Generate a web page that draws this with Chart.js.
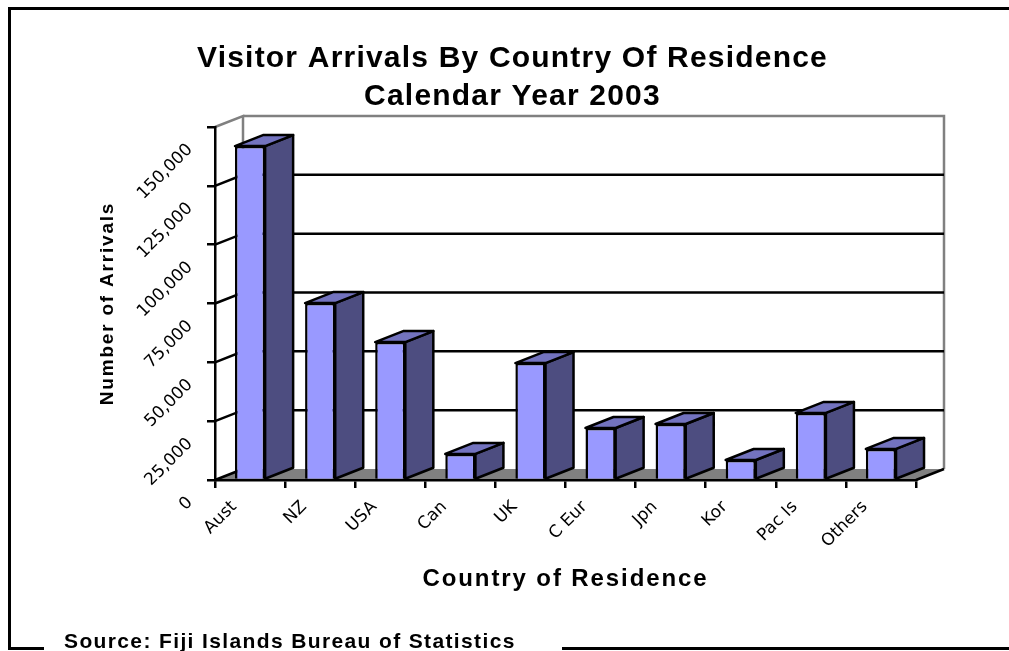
<!DOCTYPE html>
<html>
<head>
<meta charset="utf-8">
<title>Visitor Arrivals By Country Of Residence</title>
<script src="https://cdn.jsdelivr.net/npm/chart.js@4"></script>
<style>
  html, body { margin: 0; padding: 0; background: #fff; overflow: hidden; }
  canvas { display: block; }
</style>
</head>
<body>
<canvas id="arrivalsChart" width="1009" height="651"></canvas>
<script>
const countries = ['Aust', 'NZ', 'USA', 'Can', 'UK', 'C Eur', 'Jpn', 'Kor', 'Pac Is', 'Others'];
const arrivals = [141900, 75200, 58600, 11100, 49700, 22100, 23800, 8500, 28500, 13200];
const titleLines = ['Visitor Arrivals By Country Of Residence', 'Calendar Year 2003'];
const sourceText = 'Source: Fiji Islands Bureau of Statistics';

// fake 3D depth of the Excel style plot
const depthX = 28;
const depthY = 11;

function spaced(target, name, spacing) {
    const original = target[name];
    target[name] = function () {
        const ctx = this.ctx;
        ctx.letterSpacing = spacing;
        original.apply(this, arguments);
        ctx.letterSpacing = '0px';
    };
}

const plot3d = {
    id: 'plot3d',
    beforeDraw(chart) {
        const { ctx, chartArea: a } = chart;
        if (!chart.$spaced) {
            spaced(chart.titleBlock, 'draw', '1.2px');
            spaced(chart.scales.x, 'drawTitle', '1.9px');
            spaced(chart.scales.y, 'drawTitle', '1.8px');
            chart.$spaced = true;
        }
        ctx.save();
        // floor
        ctx.fillStyle = '#808080';
        ctx.beginPath();
        ctx.moveTo(a.left, a.bottom);
        ctx.lineTo(a.left + depthX, a.bottom - depthY);
        ctx.lineTo(a.right + depthX, a.bottom - depthY);
        ctx.lineTo(a.right, a.bottom);
        ctx.closePath();
        ctx.fill();
        // walls outline
        ctx.strokeStyle = '#808080';
        ctx.lineWidth = 2.5;
        ctx.beginPath();
        ctx.moveTo(a.left, a.top);
        ctx.lineTo(a.left + depthX, a.top - depthY);
        ctx.lineTo(a.left + depthX, a.bottom - depthY);
        ctx.moveTo(a.left + depthX, a.top - depthY);
        ctx.lineTo(a.right + depthX, a.top - depthY);
        ctx.lineTo(a.right + depthX, a.bottom - depthY);
        ctx.stroke();
        ctx.restore();
    },
    beforeDatasetsDraw(chart) {
        const { ctx, chartArea: a, scales: { y } } = chart;
        ctx.save();
        ctx.strokeStyle = '#000';
        ctx.lineWidth = 2.5;
        y.ticks.forEach(t => {
            if (t.value === y.max) return;
            const py = y.getPixelForValue(t.value);
            ctx.beginPath();
            ctx.moveTo(a.left, py);
            ctx.lineTo(a.left + depthX, py - depthY);
            if (t.value > 0) ctx.lineTo(a.right + depthX, py - depthY);
            ctx.stroke();
        });
        ctx.beginPath();
        ctx.moveTo(a.right, a.bottom);
        ctx.lineTo(a.right + depthX, a.bottom - depthY);
        ctx.stroke();
        ctx.restore();
    },
    afterDatasetsDraw(chart) {
        const ctx = chart.ctx;
        ctx.save();
        ctx.strokeStyle = '#000';
        ctx.lineWidth = 2.5;
        ctx.lineJoin = 'round';
        chart.getDatasetMeta(0).data.forEach(bar => {
            const left = bar.x - bar.width / 2;
            const right = bar.x + bar.width / 2;
            ctx.fillStyle = '#4d4d80';
            ctx.beginPath();
            ctx.moveTo(right, bar.y);
            ctx.lineTo(right + depthX, bar.y - depthY);
            ctx.lineTo(right + depthX, bar.base - depthY);
            ctx.lineTo(right, bar.base);
            ctx.closePath();
            ctx.fill();
            ctx.stroke();
            ctx.fillStyle = '#7373bf';
            ctx.beginPath();
            ctx.moveTo(left, bar.y);
            ctx.lineTo(left + depthX, bar.y - depthY);
            ctx.lineTo(right + depthX, bar.y - depthY);
            ctx.lineTo(right, bar.y);
            ctx.closePath();
            ctx.fill();
            ctx.stroke();
        });
        ctx.restore();
    },
    afterDraw(chart) {
        const ctx = chart.ctx;
        ctx.save();
        // page frame, open on the right, broken at the bottom for the source line
        ctx.strokeStyle = '#000';
        ctx.lineWidth = 3;
        ctx.beginPath();
        ctx.moveTo(44, 648.5);
        ctx.lineTo(9.5, 648.5);
        ctx.lineTo(9.5, 8.5);
        ctx.lineTo(1009, 8.5);
        ctx.moveTo(562, 648.5);
        ctx.lineTo(1009, 648.5);
        ctx.stroke();
        ctx.fillStyle = '#000';
        ctx.font = 'bold 21px "Liberation Sans"';
        ctx.letterSpacing = '1.37px';
        ctx.textBaseline = 'middle';
        ctx.fillText(sourceText, 64, 642);
        ctx.restore();
    }
};

new Chart(document.getElementById('arrivalsChart'), {
    type: 'bar',
    data: {
        labels: countries,
        datasets: [{
            label: 'Visitor arrivals',
            data: arrivals,
            backgroundColor: '#9999ff',
            borderColor: '#000',
            borderWidth: 2.5,
            categoryPercentage: 1,
            barPercentage: 0.43
        }]
    },
    options: {
        responsive: false,
        devicePixelRatio: 1,
        animation: false,
        layout: { padding: { left: 16, top: 40 } },
        plugins: {
            legend: { display: false },
            tooltip: { enabled: false },
            title: {
                display: true,
                text: titleLines,
                color: '#000',
                font: { family: '"Liberation Sans"', size: 30, weight: 'bold', lineHeight: 1.267 },
                padding: { top: 0, bottom: 11 }
            }
        },
        scales: {
            x: {
                afterFit(scale) {
                    scale.height = 171;
                    scale.paddingRight = 93;
                },
                grid: { offset: true, drawOnChartArea: false, color: '#000', lineWidth: 2.5, tickLength: 8 },
                border: { color: '#000', width: 2.5 },
                ticks: {
                    color: '#000',
                    font: { family: '"DejaVu Sans"', size: 17 },
                    minRotation: 45,
                    maxRotation: 45,
                    autoSkip: false,
                    labelOffset: -16,
                    padding: 9
                },
                title: {
                    display: true,
                    text: 'Country of Residence',
                    color: '#000',
                    font: { family: '"Liberation Sans"', size: 24, weight: 'bold' },
                    padding: { top: 0, bottom: 57 }
                }
            },
            y: {
                min: 0,
                max: 150000,
                afterFit(scale) { scale.width = 199; },
                grid: { drawOnChartArea: false, color: '#000', lineWidth: 2.5, tickLength: 8 },
                border: { color: '#000', width: 2.5 },
                ticks: {
                    stepSize: 25000,
                    color: '#000',
                    font: { family: '"DejaVu Sans"', size: 17 },
                    minRotation: 45,
                    labelOffset: 20,
                    padding: 17,
                    callback: v => v.toLocaleString('en-US')
                },
                title: {
                    display: true,
                    text: 'Number of Arrivals',
                    color: '#000',
                    font: { family: '"Liberation Sans"', size: 19, weight: 'bold' },
                    padding: { top: 80, bottom: 0 }
                }
            }
        }
    },
    plugins: [plot3d]
});
</script>
</body>
</html>
